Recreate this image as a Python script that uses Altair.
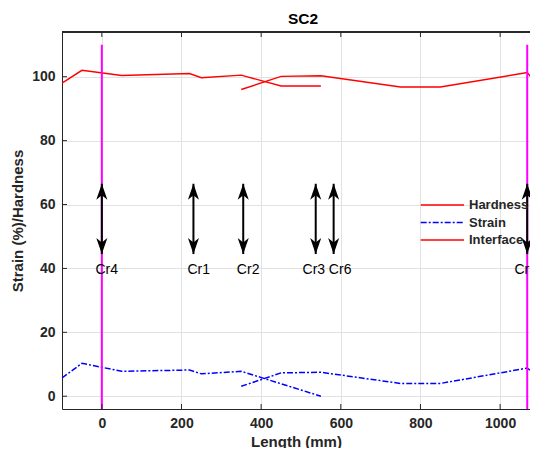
import altair as alt
import pandas as pd

# ---------------- data ----------------
hard_a_x = [-100, -50, 50, 220, 250, 350, 450, 550]
hard_a_y = [98.0, 102.0, 100.4, 101.0, 99.7, 100.5, 97.1, 97.1]
hard_b_x = [350, 450, 550, 750, 850, 1068, 1100]
hard_b_y = [96.0, 100.1, 100.3, 96.8, 96.8, 101.3, 96.5]

strain_a_x = [-100, -50, 50, 220, 250, 350, 550]
strain_a_y = [5.7, 10.3, 7.8, 8.2, 7.0, 7.8, 0.0]
strain_b_x = [350, 450, 550, 750, 850, 1068, 1100]
strain_b_y = [3.1, 7.3, 7.5, 4.0, 4.0, 8.8, 6.0]

interface_x = [0, 1068]
interface_lo = [-5, -5]
interface_hi = [110, 110]

crack_labels = ["Cr4", "Cr1", "Cr2", "Cr3", "Cr6", "Cr5"]
crack_x = [0, 230, 355, 537, 582, 1068]
crack_label_x = [-16, 215, 339, 504, 570, 1036]
crack_label_y = [39.5, 39.5, 39.5, 39.5, 39.5, 39.5]
arrow_lo = [44.5] * 6
arrow_hi = [66.5] * 6

legend_labels = ["Hardness", "Strain", "Interface"]

x_ticks = [0, 200, 400, 600, 800, 1000]
y_ticks = [0, 20, 40, 60, 80, 100]

# ---------------- tables ----------------
hard = pd.concat([
    pd.DataFrame({"x": hard_a_x, "y": hard_a_y, "seg": "a"}),
    pd.DataFrame({"x": hard_b_x, "y": hard_b_y, "seg": "b"}),
])
strain = pd.concat([
    pd.DataFrame({"x": strain_a_x, "y": strain_a_y, "seg": "a"}),
    pd.DataFrame({"x": strain_b_x, "y": strain_b_y, "seg": "b"}),
])
iface = pd.DataFrame({"x": interface_x, "y": interface_lo, "y2": interface_hi})
cracks = pd.DataFrame({"x": crack_x, "y": arrow_lo, "y2": arrow_hi})
labels = pd.DataFrame({"x": crack_label_x, "y": crack_label_y, "label": crack_labels})
xt = pd.DataFrame({"x": x_ticks})
yt = pd.DataFrame({"y": y_ticks})

FONT = "Liberation Sans, Arial, Helvetica, sans-serif"
AX = "#262626"
W, H = 468, 377

xscale = alt.Scale(domain=[-100, 1075], nice=False, zero=False)
yscale = alt.Scale(domain=[-4, 114], nice=False, zero=False)

x_axis = alt.Axis(values=x_ticks, format="d", title="Length (mm)", grid=True, ticks=False, tickSize=0,
                  labelPadding=7, titlePadding=4, labelFontSize=14, labelFontWeight="bold",
                  titleFontSize=15, titleFontWeight="bold", labelFont=FONT, titleFont=FONT,
                  labelColor=AX, titleColor=AX, domainColor=AX, gridColor="#e2e2e2")
y_axis = alt.Axis(values=y_ticks, format="d", title="Strain (%)/Hardness", grid=True, ticks=False,
                  tickSize=0, labelPadding=7, titlePadding=6, labelFontSize=14, labelFontWeight="bold",
                  titleFontSize=15, titleFontWeight="bold", labelFont=FONT, titleFont=FONT,
                  labelColor=AX, titleColor=AX, domainColor=AX, gridColor="#e2e2e2")

hard_line = alt.Chart(hard).mark_line(color="#ff0000", strokeWidth=1.4, clip=True).encode(
    x=alt.X("x:Q", scale=xscale, axis=x_axis),
    y=alt.Y("y:Q", scale=yscale, axis=y_axis),
    detail="seg:N",
)
strain_line = alt.Chart(strain).mark_line(color="#0000ff", strokeWidth=1.5, strokeDash=[6, 2, 2, 2],
                                          clip=True).encode(
    x=alt.X("x:Q"), y=alt.Y("y:Q"), detail="seg:N",
)
iface_rule = alt.Chart(iface).mark_rule(color="#ff00ff", strokeWidth=2, clip=True).encode(
    x="x:Q", y="y:Q", y2="y2:Q"
)
shaft = alt.Chart(cracks).mark_rule(color="black", strokeWidth=2).encode(
    x="x:Q", y="y:Q", y2="y2:Q"
)
UP = "M0,-1L0.69,1L0,0.45L-0.69,1Z"
DOWN = "M0,1L0.69,-1L0,-0.45L-0.69,-1Z"
head_up = alt.Chart(cracks).mark_point(shape=UP, filled=True, size=256, color="black", opacity=1,
                                       strokeWidth=0, yOffset=8).encode(x="x:Q", y="y2:Q")
head_down = alt.Chart(cracks).mark_point(shape=DOWN, filled=True, size=256, color="black", opacity=1,
                                         strokeWidth=0, yOffset=-8).encode(x="x:Q", y="y:Q")
crack_text = alt.Chart(labels).mark_text(align="left", baseline="middle", fontSize=14, font=FONT,
                                         color="black").encode(x="x:Q", y="y:Q", text="label:N")

# inward ticks and top box line
xt_bottom = alt.Chart(xt).mark_rule(color=AX, strokeWidth=1).encode(
    x="x:Q", y=alt.value(H), y2=alt.value(H - 5))
xt_top = alt.Chart(xt).mark_rule(color=AX, strokeWidth=1).encode(
    x="x:Q", y=alt.value(0), y2=alt.value(5))
yt_left = alt.Chart(yt).mark_rule(color=AX, strokeWidth=1).encode(
    y="y:Q", x=alt.value(0), x2=alt.value(5))
top_line = alt.Chart(xt).mark_rule(color=AX, strokeWidth=1).encode(
    x=alt.value(0), x2=alt.value(W), y=alt.value(0))

# manual legend
leg_layers = []
leg_styles = [("#ff0000", [1, 0], 1.4), ("#0000ff", [6, 2, 2, 2], 1.5), ("#ff0000", [1, 0], 1.4)]
for i, (lab, (col, dash, sw)) in enumerate(zip(legend_labels, leg_styles)):
    yy = 173 + i * 17.5
    one = pd.DataFrame({"label": [lab]})
    leg_layers.append(alt.Chart(one).mark_rule(color=col, strokeDash=dash, strokeWidth=sw).encode(
        x=alt.value(358.7), x2=alt.value(402), y=alt.value(yy)))
    leg_layers.append(alt.Chart(one).mark_text(align="left", baseline="middle", fontSize=13,
                                               fontWeight="bold", font=FONT, color=AX).encode(
        x=alt.value(407), y=alt.value(yy), text="label:N"))

chart = alt.layer(
    hard_line, strain_line, iface_rule, shaft, head_up, head_down, crack_text,
    xt_bottom, xt_top, yt_left, top_line, *leg_layers
).properties(
    width=W, height=H,
    title=alt.TitleParams("SC2", fontSize=15.5, fontWeight="bold", font=FONT, color="black",
                          anchor="middle", offset=4, dx=7),
    autosize=alt.AutoSizeParams(type="none"),
    padding={"left": 54, "top": 24, "right": 0, "bottom": 39},
).configure_view(stroke=None)

chart.save("out.html", embed_options={"renderer": "svg", "actions": False})
